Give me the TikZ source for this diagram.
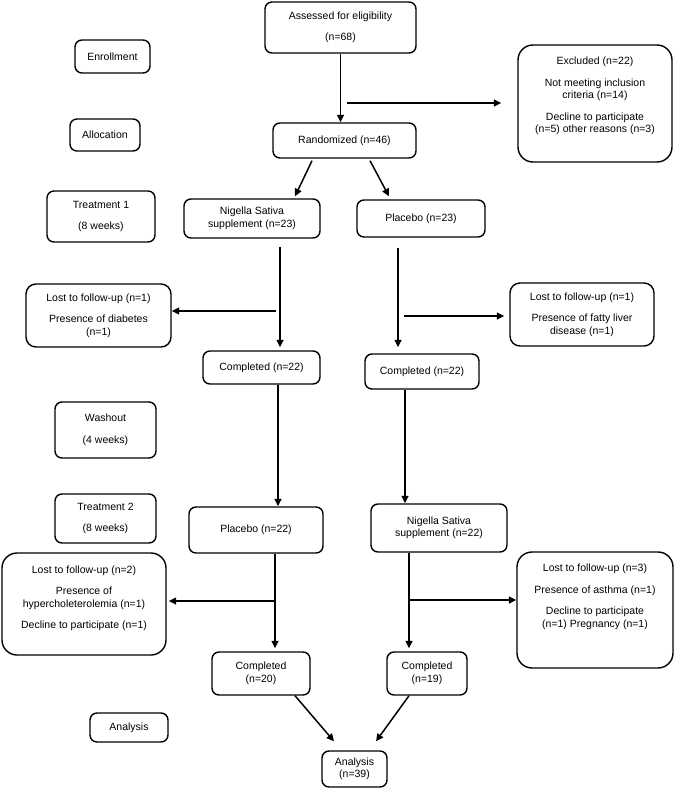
\documentclass[tikz,border=0pt]{standalone}
\usepackage{fontspec}
\setmainfont{Liberation Sans}
\usetikzlibrary{arrows.meta}
\newcommand\myfs{\fontsize{10.5}{12.5}\selectfont}
\begin{document}
\begin{tikzpicture}[x=1pt,y=-1pt,
  box/.style={draw, line width=1.4pt, rounded corners=7pt, align=center, inner sep=0pt, font=\myfs},
  bigbox/.style={box, rounded corners=15pt},
  txt/.style={align=center, inner sep=0pt, font=\myfs},
  arr/.style={line width=1.5pt, -{Triangle[length=7.5pt,width=7pt]}}]
\useasboundingbox (0,0) rectangle (676,789);
% stage boxes
\node[box, minimum width=75pt, minimum height=33pt] (enroll) at (112.5,56.5) {Enrollment};
\node[box, minimum width=70pt, minimum height=32pt] (alloc) at (105,135) {Allocation};
\node[box, minimum width=108pt, minimum height=51pt] (treat1) at (101,216.5) {Treatment 1\\[9pt](8 weeks)};
\node[box, minimum width=101pt, minimum height=56pt] (wash) at (105.5,430) {Washout\\[9pt](4 weeks)};
\node[box, minimum width=101pt, minimum height=49pt] (treat2) at (105.5,518.5) {Treatment 2\\[9pt](8 weeks)};
\node[box, minimum width=78pt, minimum height=29pt] (anaL) at (129,727.5) {Analysis};
% main flow
\node[box, minimum width=151pt, minimum height=51pt] (assess) at (340.5,27.5) {Assessed for eligibility\\[8pt](n=68)};
\node[box, minimum width=143pt, minimum height=35pt] (rand) at (344.5,140.5) {Randomized (n=46)};
\node[bigbox, minimum width=154pt, minimum height=117pt] (excl) at (595,103.5) {};
\node[txt] (exclt) at (595,96) {Excluded (n=22)\\[9pt]Not meeting inclusion\\criteria (n=14)\\[9pt]Decline to participate\\(n=5) other reasons (n=3)};
\node[box, minimum width=136pt, minimum height=39pt] (nig1) at (252,218.5) {Nigella Sativa\\supplement (n=23)};
\node[box, minimum width=128pt, minimum height=37pt] (pla1) at (421,218.5) {Placebo (n=23)};
\node[box, rounded corners=10pt, minimum width=145pt, minimum height=63pt] (lost1) at (98.5,315.5) {Lost to follow-up (n=1)\\[9pt]Presence of diabetes\\(n=1)};
\node[box, rounded corners=10pt, minimum width=144pt, minimum height=63pt] (lost1r) at (582,314.5) {Lost to follow-up (n=1)\\[9pt]Presence of fatty liver\\disease (n=1)};
\node[box, minimum width=117pt, minimum height=33pt] (comp1) at (261.5,367.5) {Completed (n=22)};
\node[box, minimum width=114pt, minimum height=35pt] (comp1r) at (422,371.5) {Completed (n=22)};
\node[box, minimum width=134pt, minimum height=46pt] (pla2) at (256,530) {Placebo (n=22)};
\node[box, minimum width=136pt, minimum height=48pt] (nig2) at (439,528) {Nigella Sativa\\supplement (n=22)};
\node[bigbox, minimum width=164pt, minimum height=102pt] (lost2) at (84,604) {};
\node[txt] (lost2t) at (84,598.5) {Lost to follow-up (n=2)\\[9pt]Presence of\\hypercholeterolemia (n=1)\\[9pt]Decline to participate (n=1)};
\node[bigbox, minimum width=156pt, minimum height=116pt] (lost3) at (595,610) {};
\node[txt] (lost3t) at (595,597) {Lost to follow-up (n=3)\\[9pt]Presence of asthma (n=1)\\[9pt]Decline to participate\\(n=1) Pregnancy (n=1)};
\node[box, minimum width=98pt, minimum height=43pt] (comp20) at (261,673.5) {Completed\\(n=20)};
\node[box, minimum width=80pt, minimum height=43pt] (comp19) at (427,673.5) {Completed\\(n=19)};
\node[box, minimum width=65pt, minimum height=36pt] (ana) at (354.5,769) {Analysis\\(n=39)};
% connectors
\draw[arr] (assess.south) -- (assess.south |- rand.north);
\coordinate (exA) at (347,103);
\draw[arr] (exA) -- (exA -| excl.west) [shorten >=16pt];
\draw[arr] ([xshift=-32.5pt,yshift=-2pt]rand.south) -- ([xshift=43pt,yshift=2pt]nig1.north);
\draw[arr] ([xshift=25.5pt,yshift=-2pt]rand.south) -- ([xshift=-32pt,yshift=3pt]pla1.north);
\draw[arr, shorten >=3pt] ([xshift=28pt,yshift=-8pt]nig1.south) coordinate (v1) -- (v1 |- comp1.north);
\coordinate (l1) at (276,311);
\draw[arr] (l1) -- (l1 -| lost1.east);
\draw[arr, shorten >=6pt] ([xshift=-23pt,yshift=-10pt]pla1.south) coordinate (v2) -- (v2 |- comp1r.north);
\coordinate (r1) at (404,316);
\draw[arr, shorten >=5pt] (r1) -- (r1 -| lost1r.west);
\draw[arr] ([xshift=16.5pt]comp1.south) coordinate (v3) -- (v3 |- pla2.north);
\draw[arr] ([xshift=-17pt]comp1r.south) coordinate (v4) -- (v4 |- nig2.north);
\draw[arr, shorten >=3pt] ([xshift=19pt]pla2.south) coordinate (v5) -- (v5 |- comp20.north);
\coordinate (l2) at (275,601);
\draw[arr, shorten >=2pt] (l2) -- (l2 -| lost2.east);
\draw[arr, shorten >=3pt] ([xshift=-30pt]nig2.south) coordinate (v6) -- (v6 |- comp19.north);
\coordinate (r2) at (409,600);
\draw[arr] (r2) -- (r2 -| lost3.west);
\draw[arr] ([xshift=34pt]comp20.south) -- ([xshift=-20.5pt,yshift=9pt]ana.north);
\draw[arr] ([xshift=-18pt]comp19.south) -- ([xshift=21.5pt,yshift=9pt]ana.north);
\end{tikzpicture}
\end{document}
